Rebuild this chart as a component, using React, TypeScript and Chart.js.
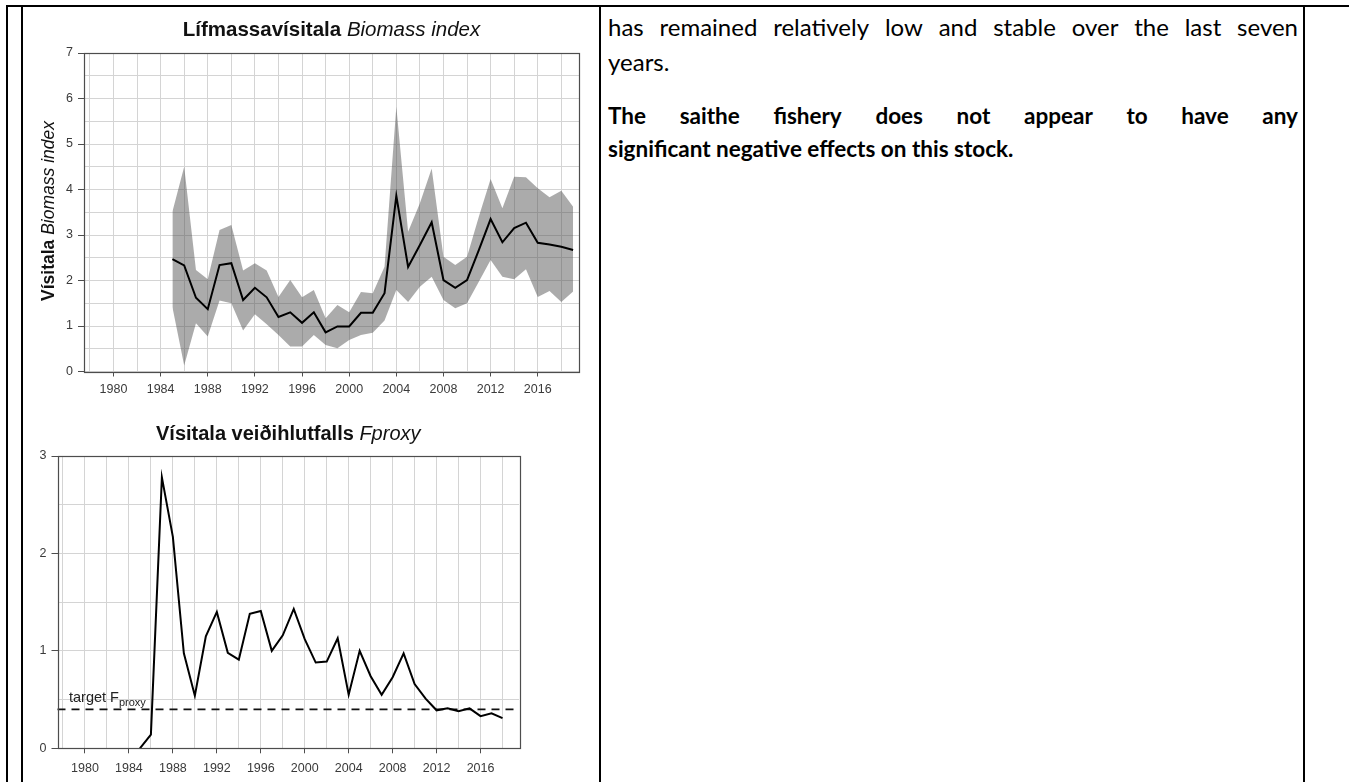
import React, { useEffect, useRef } from 'react';
import { Chart, registerables } from 'chart.js';

Chart.register(...registerables);

// Biomass index survey series with its confidence band
const biomassYears = [1985, 1986, 1987, 1988, 1989, 1990, 1991, 1992, 1993, 1994, 1995, 1996, 1997, 1998, 1999, 2000, 2001, 2002, 2003, 2004, 2005, 2006, 2007, 2008, 2009, 2010, 2011, 2012, 2013, 2014, 2015, 2016, 2017, 2018, 2019];
const biomassIndex = [2.47, 2.33, 1.62, 1.37, 2.34, 2.38, 1.57, 1.84, 1.63, 1.2, 1.3, 1.07, 1.3, 0.86, 0.99, 0.99, 1.29, 1.29, 1.72, 3.86, 2.3, 2.78, 3.28, 2.01, 1.84, 2.01, 2.67, 3.35, 2.84, 3.15, 3.27, 2.83, 2.79, 2.74, 2.67];
const biomassLower = [1.42, 0.13, 1.06, 0.77, 1.56, 1.5, 0.9, 1.26, 1.04, 0.8, 0.55, 0.55, 0.8, 0.58, 0.51, 0.69, 0.8, 0.85, 1.12, 1.79, 1.53, 1.86, 2.08, 1.57, 1.39, 1.5, 1.97, 2.45, 2.08, 2.03, 2.25, 1.64, 1.77, 1.53, 1.76];
const biomassUpper = [3.51, 4.5, 2.23, 2.03, 3.11, 3.22, 2.22, 2.38, 2.22, 1.64, 2.01, 1.63, 1.79, 1.17, 1.46, 1.3, 1.75, 1.72, 2.3, 5.82, 3.07, 3.7, 4.46, 2.52, 2.34, 2.52, 3.4, 4.23, 3.59, 4.28, 4.27, 4.03, 3.83, 3.97, 3.62];

// Fishing mortality proxy series and its target
const fproxyYears = [1985, 1986, 1987, 1988, 1989, 1990, 1991, 1992, 1993, 1994, 1995, 1996, 1997, 1998, 1999, 2000, 2001, 2002, 2003, 2004, 2005, 2006, 2007, 2008, 2009, 2010, 2011, 2012, 2013, 2014, 2015, 2016, 2017, 2018];
const fproxyIndex = [0.0, 0.14, 2.78, 2.17, 0.975, 0.54, 1.15, 1.4, 0.98, 0.91, 1.38, 1.41, 1.0, 1.16, 1.43, 1.12, 0.88, 0.89, 1.13, 0.55, 1.0, 0.74, 0.55, 0.73, 0.975, 0.66, 0.51, 0.39, 0.41, 0.38, 0.41, 0.33, 0.36, 0.31];
const targetFproxy = 0.4;

// Axis ticks: grid lines at every tick, labels only on the labelled ones
const yearGridTicks = [1978, 1980, 1982, 1984, 1986, 1988, 1990, 1992, 1994, 1996, 1998, 2000, 2002, 2004, 2006, 2008, 2010, 2012, 2014, 2016, 2018];
const yearLabelTicks = [1980, 1984, 1988, 1992, 1996, 2000, 2004, 2008, 2012, 2016];
const biomassGridTicks = [0, 0.5, 1, 1.5, 2, 2.5, 3, 3.5, 4, 4.5, 5, 5.5, 6, 6.5, 7];
const biomassLabelTicks = [0, 1, 2, 3, 4, 5, 6, 7];
const fproxyGridTicks = [0, 0.5, 1, 1.5, 2, 2.5, 3];
const fproxyLabelTicks = [0, 1, 2, 3];

const YEAR_MIN = 1977.5;
const YEAR_MAX = 2019.5;

const SANS = '"Liberation Sans", Arial, sans-serif';
const GRID = '#d4d4d4';
const AXIS = '#4d4d4d';
const TICK_TEXT = '#3a3a3a';

type Part = { text: string; font: string; sub?: boolean };

function drawParts(ctx: CanvasRenderingContext2D, parts: Part[], x: number, y: number, align: 'center' | 'left') {
  let total = 0;
  for (const p of parts) {
    ctx.font = p.font;
    total += ctx.measureText(p.text).width;
  }
  let cx = align === 'center' ? x - total / 2 : x;
  ctx.textAlign = 'left';
  ctx.textBaseline = 'alphabetic';
  for (const p of parts) {
    ctx.font = p.font;
    ctx.fillText(p.text, cx, p.sub ? y + 4 : y);
    cx += ctx.measureText(p.text).width;
  }
}

function yearAxis(labelPadding: number, height: number) {
  return {
    type: 'linear' as const,
    min: YEAR_MIN,
    max: YEAR_MAX,
    afterBuildTicks: (s: any) => {
      s.ticks = yearGridTicks.map((v) => ({ value: v }));
    },
    afterFit: (s: any) => {
      s.height = height;
    },
    ticks: {
      autoSkip: false,
      maxRotation: 0,
      padding: labelPadding,
      color: TICK_TEXT,
      font: { family: SANS, size: 12.5 },
      callback: (v: any) => (yearLabelTicks.includes(Number(v)) ? String(v) : ''),
    },
    grid: {
      color: GRID,
      lineWidth: 1,
      tickLength: 5,
      tickWidth: 1,
      tickColor: (c: any) => (c.tick && yearLabelTicks.includes(c.tick.value) ? AXIS : 'rgba(0,0,0,0)'),
    },
    border: { display: false },
  };
}

function valueAxis(min: number, max: number, gridTicks: number[], labelTicks: number[], width: number) {
  return {
    type: 'linear' as const,
    min,
    max,
    afterBuildTicks: (s: any) => {
      s.ticks = gridTicks.map((v) => ({ value: v }));
    },
    afterFit: (s: any) => {
      s.width = width;
    },
    ticks: {
      autoSkip: false,
      padding: 5,
      color: TICK_TEXT,
      font: { family: SANS, size: 12.5 },
      callback: (v: any) => (labelTicks.includes(Number(v)) ? String(v) : ''),
    },
    grid: {
      color: GRID,
      lineWidth: 1,
      tickLength: 6,
      tickWidth: 1,
      tickColor: (c: any) => (c.tick && labelTicks.includes(c.tick.value) ? AXIS : 'rgba(0,0,0,0)'),
    },
    border: { display: false },
  };
}

function frame(chart: any) {
  const { ctx, chartArea: a } = chart;
  ctx.save();
  ctx.strokeStyle = AXIS;
  ctx.lineWidth = 1.2;
  ctx.strokeRect(Math.round(a.left) + 0.5, Math.round(a.top) + 0.5, Math.round(a.right - a.left), Math.round(a.bottom - a.top));
  ctx.restore();
}

function biomassConfig(): any {
  const pts = (ys: number[]) => biomassYears.map((x, i) => ({ x, y: ys[i] }));
  return {
    type: 'line',
    data: {
      datasets: [
        { data: pts(biomassIndex), borderColor: '#000', borderWidth: 2, pointRadius: 0, fill: false, tension: 0 },
        { data: pts(biomassUpper), borderWidth: 0, borderColor: 'rgba(0,0,0,0)', pointRadius: 0, fill: '+1', backgroundColor: 'rgba(80,80,80,0.48)', tension: 0 },
        { data: pts(biomassLower), borderWidth: 0, borderColor: 'rgba(0,0,0,0)', pointRadius: 0, fill: false, tension: 0 },
      ],
    },
    options: {
      responsive: false,
      animation: false,
      events: [],
      layout: { padding: { left: 0, top: 45, right: 19, bottom: 0 } },
      plugins: { legend: { display: false }, tooltip: { enabled: false }, title: { display: false } },
      scales: {
        x: yearAxis(6, 33.5),
        y: valueAxis(0, 7, biomassGridTicks, biomassLabelTicks, 60),
      },
    },
    plugins: [
      {
        id: 'biomassDecor',
        afterDraw(chart: any) {
          const ctx = chart.ctx as CanvasRenderingContext2D;
          const a = chart.chartArea;
          frame(chart);
          ctx.save();
          ctx.fillStyle = '#111';
          drawParts(ctx, [
            { text: 'Lífmassavísitala ', font: `bold 20.5px ${SANS}` },
            { text: 'Biomass index', font: `italic 20.5px ${SANS}` },
          ], (a.left + a.right) / 2, 28, 'center');
          ctx.translate(30, 203);
          ctx.rotate(-Math.PI / 2);
          drawParts(ctx, [
            { text: 'Vísitala ', font: `bold 17.5px ${SANS}` },
            { text: 'Biomass index', font: `italic 17.5px ${SANS}` },
          ], 0, 0, 'center');
          ctx.restore();
        },
      },
    ],
  };
}

function fproxyConfig(): any {
  return {
    type: 'line',
    data: {
      datasets: [
        { data: fproxyYears.map((x, i) => ({ x, y: fproxyIndex[i] })), borderColor: '#000', borderWidth: 2, pointRadius: 0, fill: false, tension: 0 },
      ],
    },
    options: {
      responsive: false,
      animation: false,
      events: [],
      layout: { padding: { left: 0, top: 46, right: 79, bottom: 0 } },
      plugins: { legend: { display: false }, tooltip: { enabled: false }, title: { display: false } },
      scales: {
        x: yearAxis(8, 33.7),
        y: valueAxis(0, 3, fproxyGridTicks, fproxyLabelTicks, 33.5),
      },
    },
    plugins: [
      {
        id: 'fproxyDecor',
        beforeDatasetsDraw(chart: any) {
          const ctx = chart.ctx as CanvasRenderingContext2D;
          const a = chart.chartArea;
          const y = chart.scales.y.getPixelForValue(targetFproxy);
          ctx.save();
          ctx.strokeStyle = '#111';
          ctx.lineWidth = 1.6;
          ctx.setLineDash([8, 6]);
          ctx.beginPath();
          ctx.moveTo(a.left, y);
          ctx.lineTo(a.right, y);
          ctx.stroke();
          ctx.restore();
        },
        afterDraw(chart: any) {
          const ctx = chart.ctx as CanvasRenderingContext2D;
          const a = chart.chartArea;
          frame(chart);
          const y = chart.scales.y.getPixelForValue(targetFproxy);
          ctx.save();
          ctx.fillStyle = '#222';
          drawParts(ctx, [
            { text: 'target F', font: `14.5px ${SANS}` },
            { text: 'proxy', font: `11px ${SANS}`, sub: true },
          ], 45, y - 7.5, 'left');
          ctx.fillStyle = '#111';
          drawParts(ctx, [
            { text: 'Vísitala veiðihlutfalls ', font: `bold 20px ${SANS}` },
            { text: 'Fproxy', font: `italic 20px ${SANS}` },
          ], (a.left + a.right) / 2, 30, 'center');
          ctx.restore();
        },
      },
    ],
  };
}

function ChartBox({ left, top, width, height, build }: { left: number; top: number; width: number; height: number; build: () => any }) {
  const ref = useRef<HTMLCanvasElement>(null);
  useEffect(() => {
    const chart = new Chart(ref.current as HTMLCanvasElement, build());
    return () => chart.destroy();
  }, []);
  return (
    <div style={{ position: 'absolute', left, top, width, height }}>
      <canvas ref={ref} width={width} height={height} style={{ width, height, display: 'block' }} />
    </div>
  );
}

const rule = (left: number, top: number, width: number, height: number) => (
  <div style={{ position: 'absolute', left, top, width, height, background: '#000' }} />
);

function JustifiedLine({ text, top, bold, size }: { text: string; top: number; bold?: boolean; size: number }) {
  return (
    <div style={{ position: 'absolute', left: 0, right: 0, top, display: 'flex', justifyContent: 'space-between', fontWeight: bold ? 700 : 400, fontSize: size, whiteSpace: 'nowrap' }}>
      {text.split(' ').map((w, i) => (
        <span key={i}>{w}</span>
      ))}
    </div>
  );
}

function PlainLine({ text, top, bold, size }: { text: string; top: number; bold?: boolean; size: number }) {
  return (
    <div style={{ position: 'absolute', left: 0, top, fontWeight: bold ? 700 : 400, fontSize: size, whiteSpace: 'nowrap' }}>{text}</div>
  );
}

export default function App() {
  return (
    <div style={{ position: 'absolute', left: 0, top: 0, width: 1349, height: 782, overflow: 'hidden', background: '#fff' }}>
      {rule(6, 5, 1343, 2)}
      {rule(6, 5, 2, 777)}
      {rule(21, 5, 2, 777)}
      {rule(599, 5, 2, 777)}
      {rule(1303, 5, 2, 777)}

      <ChartBox left={24} top={8} width={574} height={397} build={biomassConfig} />
      <ChartBox left={24} top={410} width={574} height={372} build={fproxyConfig} />

      <div style={{ position: 'absolute', left: 608, top: 0, width: 690, height: 200, fontFamily: 'Lato, "Noto Sans", sans-serif', lineHeight: '34px', color: '#000' }}>
        <JustifiedLine text="has remained relatively low and stable over the last seven" top={10} size={24} />
        <PlainLine text="years." top={45} size={24} />
        <JustifiedLine text="The saithe fishery does not appear to have any" top={99} bold size={22.5} />
        <PlainLine text="significant negative effects on this stock." top={132} bold size={22.5} />
      </div>
    </div>
  );
}
